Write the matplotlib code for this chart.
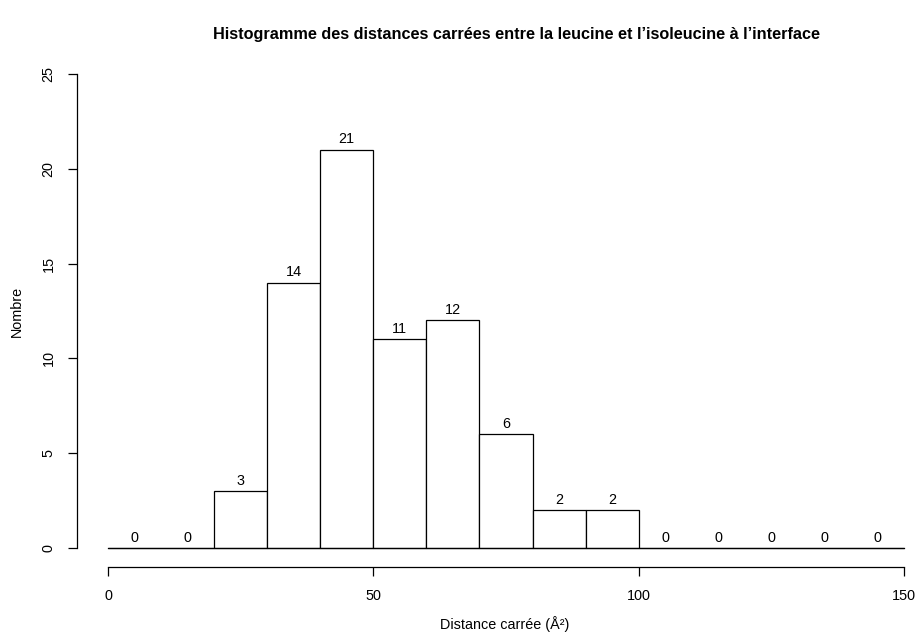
import numpy as np
import matplotlib.pyplot as plt

plt.rcParams['font.family'] = ['Liberation Sans', 'DejaVu Sans']

# bin edges and counts of the histogram
breaks = [0, 10, 20, 30, 40, 50, 60, 70, 80, 90, 100, 110, 120, 130, 140, 150]
counts = [0, 0, 3, 14, 21, 11, 12, 6, 2, 2, 0, 0, 0, 0, 0]
x_ticks = [0, 50, 100, 150]
y_ticks = [0, 5, 10, 15, 20, 25]

TITLE = "Histogramme des distances carrées entre la leucine et l’isoleucine à l’interface"
XLABEL = "Distance carrée (Å²)"
YLABEL = "Nombre"

W, H = 922, 636
FS = 10.4
fig = plt.figure(figsize=(W / 100, H / 100), dpi=100)

# pixel mapping: x 0 -> 108, 150 -> 904 ; y 0 -> 548, 25 -> 74
px_x = (904 - 108) / 150
px_y = (548 - 74) / 25
left_px, right_px = 77, W
top_px, bottom_px = 55, 567
ax = fig.add_axes([left_px / W, 1 - bottom_px / H,
                   (right_px - left_px) / W, (bottom_px - top_px) / H])
ax.set_xlim((left_px - 108) / px_x, (right_px - 108) / px_x)
ax.set_ylim((548 - bottom_px) / px_y, (548 - top_px) / px_y)

edges = np.array(breaks)
ax.bar(edges[:-1], counts, width=np.diff(edges), align='edge',
       facecolor='white', edgecolor='black', linewidth=0.9)
# zero-height bins still draw a flat line in R
ax.plot([breaks[0], breaks[-1]], [0, 0], color='black', linewidth=0.9)

for l, r, c in zip(edges[:-1], edges[1:], counts):
    ax.annotate(str(c), ((l + r) / 2, c), xytext=(0, 2.5), textcoords='offset points',
                ha='center', va='bottom', fontsize=FS)

for s in ['top', 'right']:
    ax.spines[s].set_visible(False)
ax.spines['left'].set_bounds(0, 25)
ax.spines['bottom'].set_bounds(0, 150)
ax.spines['left'].set_linewidth(0.9)
ax.spines['bottom'].set_linewidth(0.9)

ax.set_xticks(x_ticks)
ax.set_yticks(y_ticks)
ax.tick_params(direction='out', length=6.5, width=0.9, labelsize=FS)
ax.tick_params(axis='x', pad=9)
ax.tick_params(axis='y', pad=9)
for lab in ax.get_yticklabels():
    lab.set_rotation(90)
    lab.set_va('center')

fig.text(516 / W, 1 - 35 / H, TITLE, ha='center', va='center',
         fontsize=11.7, fontweight='bold')
fig.text(505 / W, 1 - 624 / H, XLABEL, ha='center', va='center', fontsize=FS)
fig.text(17 / W, 1 - 311 / H, YLABEL, ha='center', va='center',
         fontsize=FS, rotation=90)

fig.savefig('out.png', dpi=100)
